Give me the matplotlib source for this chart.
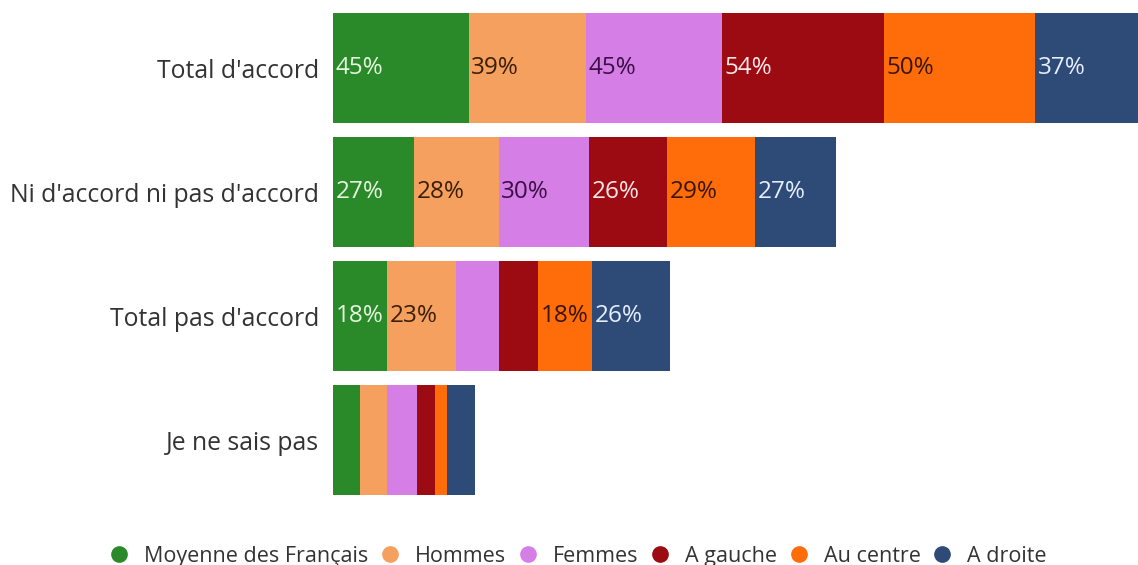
"""
Barres empilées horizontales : avis par catégorie de population
"""
import matplotlib
matplotlib.use("Agg")
import matplotlib.pyplot as plt
from matplotlib.lines import Line2D

plt.rcParams["font.family"] = ["Open Sans", "DejaVu Sans"]

categories = ["Total d'accord", "Ni d'accord ni pas d'accord",
              "Total pas d'accord", "Je ne sais pas"]
series = ["Moyenne des Français", "Hommes", "Femmes",
          "A gauche", "Au centre", "A droite"]

moyenne = [45, 27, 18, 9]
hommes = [39, 28, 23, 9]
femmes = [45, 30, 14, 10]
gauche = [54, 26, 13, 6]
centre = [50, 29, 18, 4]
droite = [37, 27, 26, 9]

colors = ["#2a8a2a", "#f5a05e", "#d57ee6", "#9c0a12", "#ff6c0a", "#2e4b78"]
text_colors = ["#e6f7e0", "#3a1f05", "#3a0f45", "#ffe8e8", "#3a1505", "#e6eeff"]

MIN_LABEL = 15  # sous ce seuil, pas de place pour l'étiquette


def main():
    fig = plt.figure(figsize=(11.38, 5.65), dpi=100)
    ax = fig.add_axes([333 / 1138, 63 / 565, 805 / 1138, 496 / 565])

    values = [moyenne, hommes, femmes, gauche, centre, droite]
    y = list(range(len(categories)))
    left = [0] * len(categories)

    for name, vals, col, tcol in zip(series, values, colors, text_colors):
        ax.barh(y, vals, left=left, height=0.895, color=col, label=name)
        for yi, (l, v) in enumerate(zip(left, vals)):
            if v >= MIN_LABEL:
                ax.text(l + 0.9, yi, f"{v}%", ha="left", va="center",
                        fontsize=17.5, color=tcol)
        left = [a + b for a, b in zip(left, vals)]

    ax.set_xlim(0, 805 / 3.012)
    ax.set_ylim(3.5, -0.5)
    ax.set_yticks(y)
    ax.set_yticklabels(categories, fontsize=17.8, color="#333333")
    ax.tick_params(axis="y", length=0, pad=10)
    ax.set_xticks([])
    for s in ax.spines.values():
        s.set_visible(False)

    handles = [Line2D([], [], marker="o", linestyle="none", markersize=11,
                      markerfacecolor=c, markeredgecolor=c) for c in colors]
    fig.legend(handles, series, loc="center", bbox_to_anchor=(0.5075, 0.015),
               ncol=6, frameon=False, fontsize=15.5, handlelength=1,
               handletextpad=0.65, columnspacing=0.52, labelcolor="#333333")

    fig.savefig("out.png", dpi=100)
    plt.close(fig)


if __name__ == "__main__":
    main()
